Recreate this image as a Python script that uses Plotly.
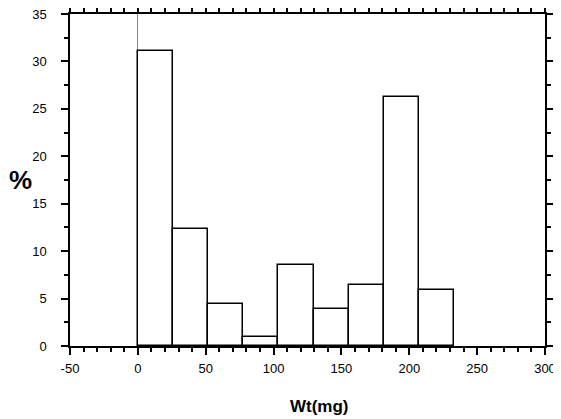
import plotly.graph_objects as go
import numpy as np

# Histogram data
bin_start = 0.0
bin_width = 25.9
percent = [31.1, 12.35, 4.4, 1.0, 8.5, 3.9, 6.45, 26.3, 5.95]
x_ticks = [-50, 0, 50, 100, 150, 200, 250, 300]
y_ticks = [0, 5, 10, 15, 20, 25, 30, 35]

centers = bin_start + bin_width * (np.arange(len(percent)) + 0.5)

font_family = "Liberation Sans, Arial, Helvetica, sans-serif"

fig = go.Figure(go.Bar(
    x=centers, y=percent, width=bin_width,
    marker=dict(color="white", line=dict(color="black", width=1.5)),
    showlegend=False,
))

axis_common = dict(
    showgrid=False, showline=True, linecolor="black", linewidth=1.5,
    mirror="allticks", ticks="outside", tickcolor="black", tickwidth=1.5,
    ticklen=7, tickfont=dict(family=font_family, size=13, color="black"),
    automargin=False, ticklabeloverflow="allow",
)

fig.update_xaxes(
    range=[-50, 300], tickvals=x_ticks, ticktext=[str(v) for v in x_ticks],
    zeroline=True, zerolinecolor="#888888", zerolinewidth=1,
    minor=dict(dtick=10, tick0=0, ticks="outside", ticklen=4, tickcolor="black", tickwidth=1.5),
    ticklabelstandoff=3,
    **axis_common,
)
fig.update_yaxes(
    range=[0, 35], tickvals=y_ticks, ticktext=[str(v) for v in y_ticks],
    zeroline=False,
    minor=dict(dtick=2.5, tick0=0, ticks="outside", ticklen=4, tickcolor="black", tickwidth=1.5),
    ticklabelstandoff=12,
    **axis_common,
)

fig.add_annotation(
    text="<b>%</b>", xref="paper", yref="paper", x=-0.105, y=0.5,
    xanchor="center", yanchor="middle", showarrow=False,
    font=dict(family=font_family, size=26, color="black"),
)
fig.add_annotation(
    text="<b>Wt(mg)</b>", xref="paper", yref="paper", x=0.526, y=-0.148,
    xanchor="center", yanchor="top", showarrow=False,
    font=dict(family=font_family, size=17, color="black"),
)

fig.update_layout(
    width=553, height=411,
    margin=dict(l=62, r=16, t=6, b=73, autoexpand=False),
    plot_bgcolor="white", paper_bgcolor="white",
    bargap=0,
)

fig.write_html("out.html")
